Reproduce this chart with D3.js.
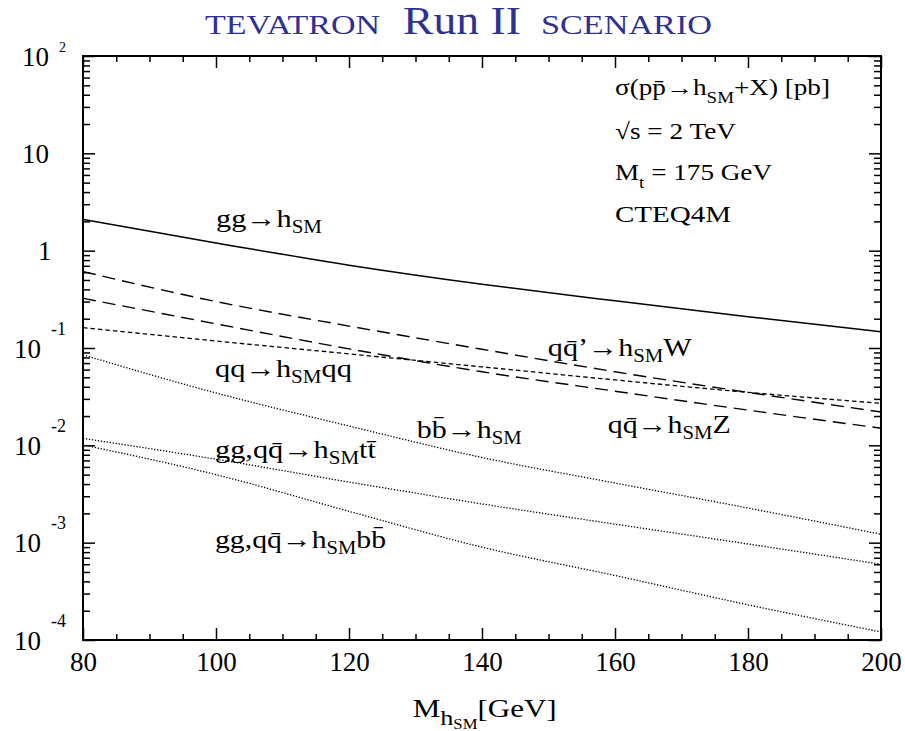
<!DOCTYPE html>
<html>
<head>
<meta charset="utf-8">
<script src="https://cdn.jsdelivr.net/npm/d3@7"></script>
<style>
  html, body { margin: 0; padding: 0; background: #fff; }
  svg { display: block; font-family: "Liberation Serif", "Times New Roman", serif; }
</style>
</head>
<body>
<svg id="chart" width="905" height="731"></svg>
<script>
// Higgs mass grid [GeV] and production cross sections sigma [pb]
const masses   = [80, 100, 120, 140, 160, 180, 200];
const sigGG    = [2.10, 1.20, 0.71, 0.452, 0.305, 0.21, 0.147];      // gg -> h
const sigW     = [0.61, 0.30, 0.168, 0.097, 0.057, 0.035, 0.022];    // q qbar' -> h W
const sigZ     = [0.324, 0.177, 0.098, 0.057, 0.036, 0.023, 0.015];  // q qbar -> h Z
const sigQQ    = [0.162, 0.118, 0.087, 0.064, 0.047, 0.035, 0.027];  // qq -> h qq
const sigBBtoH = [0.085, 0.0345, 0.0158, 0.0075, 0.0041, 0.00227, 0.00122]; // b bbar -> h
const sigTTH   = [0.0118, 0.0072, 0.0042, 0.0025, 0.00155, 0.00097, 0.00060]; // -> h t tbar
const sigBBH   = [0.0101, 0.0050, 0.0021, 0.00090, 0.00046, 0.00023, 0.000121]; // -> h b bbar

// axis ticks
const xMajor = [80, 100, 120, 140, 160, 180, 200];
const xMinorStep = 5;
const yDecades = [1e-4, 1e-3, 1e-2, 1e-1, 1, 10, 100];
const yBase = ["10", "10", "10", "10", "1", "10", "10"];
const yExp  = ["-4", "-3", "-2", "-1", "", "", "2"];

// text: [string, subscript level]
const titleParts = ["TEVATRON", "Run II", "SCENARIO"];
const infoLines = [
  [["σ(pp̄→h", 0], ["SM", 1], ["+X) [pb]", 0]],
  [["√s = 2 TeV", 0]],
  [["M", 0], ["t", 1], [" = 175 GeV", 0]],
  [["CTEQ4M", 0]]
];
const lblGG  = [["gg→h", 0], ["SM", 1]];
const lblQQ  = [["qq→h", 0], ["SM", 1], ["qq", 0]];
const lblBB  = [["bb̄→h", 0], ["SM", 1]];
const lblW   = [["qq̄’→h", 0], ["SM", 1], ["W", 0]];
const lblZ   = [["qq̄→h", 0], ["SM", 1], ["Z", 0]];
const lblTT  = [["gg,qq̄→h", 0], ["SM", 1], ["tt̄", 0]];
const lblBBH = [["gg,qq̄→h", 0], ["SM", 1], ["bb̄", 0]];
const axisTitle = [["M", 0], ["h", 1], ["SM", 2], ["[GeV]", 0]];

const svg = d3.select("#chart");
const plotL = 83, plotR = 881, plotT = 56, plotB = 640;

const x = d3.scaleLinear().domain([80, 200]).range([plotL, plotR]);
const y = d3.scaleLog().domain([1e-4, 1e2]).range([plotB, plotT]);

// ---- curves ----
const line = vals => d3.line()
  .x((d, i) => x(masses[i]))
  .y(d => y(d))
  .curve(d3.curveMonotoneX)(vals);

const curves = [
  { v: sigGG,    dash: null,      w: 1.5 },
  { v: sigW,     dash: "13,7",    w: 1.4 },
  { v: sigZ,     dash: "13,7",    w: 1.4 },
  { v: sigQQ,    dash: "4.5,3",   w: 1.3 },
  { v: sigBBtoH, dash: "1.3,1.7", w: 1.3 },
  { v: sigTTH,   dash: "1.3,1.7", w: 1.3 },
  { v: sigBBH,   dash: "1.3,1.7", w: 1.3 }
];
svg.append("g").selectAll("path").data(curves).join("path")
  .attr("d", c => line(c.v))
  .attr("fill", "none")
  .attr("stroke", "#000")
  .attr("stroke-width", c => c.w)
  .attr("stroke-dasharray", c => c.dash);

// ---- axes (ticks pointing inward on all four sides) ----
const yMinor = [];
yDecades.slice(0, -1).forEach(d => { for (let k = 2; k <= 9; k++) yMinor.push(k * d); });
const xMinor = d3.range(80, 200 + 1e-9, xMinorStep).filter(v => !xMajor.includes(v));

function styleAxis(g) {
  g.attr("font-family", null).attr("font-size", null);
  g.select(".domain").remove();
  g.selectAll(".tick line").attr("stroke", "#000").attr("stroke-width", 1.5);
}

svg.append("g").attr("transform", `translate(0,${plotB})`)
  .call(d3.axisBottom(x).tickValues(xMajor).tickSizeInner(-12).tickSizeOuter(0).tickPadding(12))
  .call(styleAxis)
  .call(g => g.selectAll("text").attr("font-size", 27).attr("fill", "#000"));
svg.append("g").attr("transform", `translate(0,${plotB})`)
  .call(d3.axisBottom(x).tickValues(xMinor).tickSizeInner(-6).tickSizeOuter(0).tickFormat(""))
  .call(styleAxis);
svg.append("g").attr("transform", `translate(0,${plotT})`)
  .call(d3.axisTop(x).tickValues(xMajor).tickSizeInner(-12).tickSizeOuter(0).tickFormat(""))
  .call(styleAxis);
svg.append("g").attr("transform", `translate(0,${plotT})`)
  .call(d3.axisTop(x).tickValues(xMinor).tickSizeInner(-6).tickSizeOuter(0).tickFormat(""))
  .call(styleAxis);

svg.append("g").attr("transform", `translate(${plotL},0)`)
  .call(d3.axisLeft(y).tickValues(yDecades).tickSizeInner(-12).tickSizeOuter(0).tickFormat(""))
  .call(styleAxis);
svg.append("g").attr("transform", `translate(${plotL},0)`)
  .call(d3.axisLeft(y).tickValues(yMinor).tickSizeInner(-7).tickSizeOuter(0).tickFormat(""))
  .call(styleAxis);
svg.append("g").attr("transform", `translate(${plotR},0)`)
  .call(d3.axisRight(y).tickValues(yDecades).tickSizeInner(-12).tickSizeOuter(0).tickFormat(""))
  .call(styleAxis);
svg.append("g").attr("transform", `translate(${plotR},0)`)
  .call(d3.axisRight(y).tickValues(yMinor).tickSizeInner(-7).tickSizeOuter(0).tickFormat(""))
  .call(styleAxis);

// frame
svg.append("rect")
  .attr("x", plotL).attr("y", plotT)
  .attr("width", plotR - plotL).attr("height", plotB - plotT)
  .attr("fill", "none").attr("stroke", "#000").attr("stroke-width", 2);

// y tick labels: mantissa plus raised exponent
const yl = svg.append("g").attr("fill", "#000");
yDecades.forEach((d, i) => {
  const py = y(d);
  const neg = yExp[i].startsWith("-");
  const bx = yBase[i] === "1" ? 38 : (neg ? 14 : 22);
  yl.append("text").attr("x", bx).attr("y", py + 9.5)
    .attr("font-size", 27).text(yBase[i]);
  if (yExp[i]) {
    yl.append("text")
      .attr("x", neg ? 51 : 59)
      .attr("y", neg ? py - 13.5 : py - 4)
      .attr("font-size", neg ? 18 : 14)
      .text(yExp[i]);
  }
});

// rich text with subscripts
function richText(px, py, parts, size, width, opts = {}) {
  const subSize = opts.subSize || [size, size * 0.68, size * 0.6];
  const subDy = opts.subDy || [0, 6, 12];
  const t = svg.append("text").attr("x", px).attr("y", py)
    .attr("font-size", size).attr("fill", opts.fill || "#000");
  let cur = 0;
  parts.forEach(([s, lvl]) => {
    const sp = t.append("tspan").text(s).attr("font-size", subSize[lvl]);
    const off = subDy[lvl] - cur;
    if (off !== 0) sp.attr("dy", off);
    cur = subDy[lvl];
  });
  if (width) t.attr("textLength", width).attr("lengthAdjust", "spacingAndGlyphs");
  return t;
}

// title
const blue = "#2e3192";
svg.append("text").attr("x", 205).attr("y", 34).attr("font-size", 27).attr("fill", blue)
  .attr("textLength", 175).attr("lengthAdjust", "spacingAndGlyphs").text(titleParts[0]);
svg.append("text").attr("x", 403).attr("y", 34).attr("font-size", 39).attr("fill", blue)
  .attr("textLength", 118).attr("lengthAdjust", "spacingAndGlyphs").text(titleParts[1]);
svg.append("text").attr("x", 541).attr("y", 34).attr("font-size", 27).attr("fill", blue)
  .attr("textLength", 171).attr("lengthAdjust", "spacingAndGlyphs").text(titleParts[2]);

// information block (upper right)
const infoBase = [95, 139, 180, 222];
const infoW = [215, 121, 157, 116];
infoLines.forEach((ln, i) => {
  richText(x(160), infoBase[i], ln, 23, infoW[i], { subSize: [23, 16], subDy: [0, 8] });
});

// curve labels, anchored in data coordinates
const lbl = (m, v, parts, w) => richText(x(m), y(v), parts, 26, w, { subSize: [26, 18], subDy: [0, 6] });
lbl(100,    1.765,    lblGG,  106);
lbl(99.85,  0.0507,   lblQQ,  137);
lbl(130.2,  0.01183,  lblBB,  105);
lbl(149.9,  0.0828,   lblW,   144);
lbl(158.9,  0.0133,   lblZ,   123);
lbl(99.85,  0.00736,  lblTT,  161);
lbl(99.85,  0.000876, lblBBH, 171);

// x-axis title
richText(412.7, 717, axisTitle, 26, 144, { subSize: [26, 22, 14], subDy: [0, 8, 12] });
</script>
</body>
</html>
